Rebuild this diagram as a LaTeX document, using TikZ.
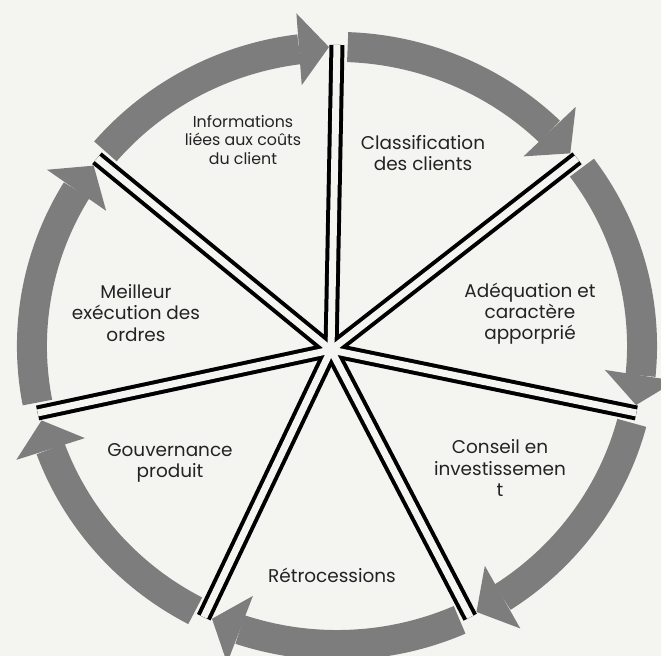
\documentclass[tikz,border=0pt]{standalone}
\usepackage{fontspec}
\setmainfont{Poppins}
\usepackage{xcolor}
\usetikzlibrary{arrows.meta,bending,calc}

\definecolor{paper}{RGB}{244,244,241}
\definecolor{ringgray}{RGB}{125,125,125}
\definecolor{inkgray}{RGB}{35,35,35}

\begin{document}
\begin{tikzpicture}[
        scale=0.02,
        label/.style={align=center, font=\fontsize{10.5}{12}\selectfont, text=inkgray},
        smalllabel/.style={align=center, font=\fontsize{9}{10.5}\selectfont, text=inkgray},
        ring/.style={draw=ringgray, line width=0.6cm,
            -{Triangle[length=0.6cm 0 0, width=1.44cm 0 0, line width=0pt, flex]}},
        spokeout/.style={black, line width=0.3cm},
        spokein/.style={paper, line width=0.14cm}
    ]

    % Page
    \fill[paper] (-337,-310) rectangle (324,346);
    \useasboundingbox (-337,-310) rectangle (324,346);

    % Hub and spoke ends
    \coordinate (hub) at (-6,-4);
    \coordinate (s1) at (90:307 and 301);
    \coordinate (s2) at (38.571:307 and 301);
    \coordinate (s3) at (-12.857:307 and 301);
    \coordinate (s4) at (-64.286:307 and 301);
    \coordinate (s5) at (-115.714:307 and 301);
    \coordinate (s6) at (-167.143:307 and 301);
    \coordinate (s7) at (141.429:307 and 301);

    % Ring starts
    \coordinate (r1) at (88:305 and 299);
    \coordinate (r2) at (36.6:305 and 299);
    \coordinate (r3) at (-14.9:305 and 299);
    \coordinate (r4) at (-66.3:305 and 299);
    \coordinate (r5) at (-117.7:305 and 299);
    \coordinate (r6) at (190.9:305 and 299);
    \coordinate (r7) at (139.4:305 and 299);

    % Ring arrows
    \draw[ring] (r1) arc[start angle=88, end angle=40.1, x radius=305, y radius=299];
    \draw[ring] (r2) arc[start angle=36.6, end angle=-11.4, x radius=305, y radius=299];
    \draw[ring] (r3) arc[start angle=-14.9, end angle=-62.8, x radius=305, y radius=299];
    \draw[ring] (r4) arc[start angle=-66.3, end angle=-114.2, x radius=305, y radius=299];
    \draw[ring] (r5) arc[start angle=-117.7, end angle=-165.6, x radius=305, y radius=299];
    \draw[ring] (r6) arc[start angle=190.9, end angle=142.9, x radius=305, y radius=299];
    \draw[ring] (r7) arc[start angle=139.4, end angle=91.5, x radius=305, y radius=299];

    % Spokes
    \draw[spokeout] (hub) -- (s1);
    \draw[spokeout] (hub) -- (s2);
    \draw[spokeout] (hub) -- (s3);
    \draw[spokeout] (hub) -- (s4);
    \draw[spokeout] (hub) -- (s5);
    \draw[spokeout] (hub) -- (s6);
    \draw[spokeout] (hub) -- (s7);
    \draw[spokein] (hub) -- ($(s1)!0.08cm!(hub)$);
    \draw[spokein] (hub) -- ($(s2)!0.08cm!(hub)$);
    \draw[spokein] (hub) -- ($(s3)!0.08cm!(hub)$);
    \draw[spokein] (hub) -- ($(s4)!0.08cm!(hub)$);
    \draw[spokein] (hub) -- ($(s5)!0.08cm!(hub)$);
    \draw[spokein] (hub) -- ($(s6)!0.08cm!(hub)$);
    \draw[spokein] (hub) -- ($(s7)!0.08cm!(hub)$);

    % Labels
    \node[smalllabel] (info) at (-94,206) {Informations\\liées aux coûts\\du client};
    \node[label] (classif) at (86,193) {Classification\\des clients};
    \node[label] (adequation) at (193,32) {Adéquation et\\caractère\\apporprié};
    \node[label] (conseil) at (163,-122) {Conseil en\\investissemen\\t};
    \node[label] (retro) at (-5,-229) {Rétrocessions};
    \node[label] (gouv) at (-167,-117) {Gouvernance\\produit};
    \node[label] (meilleur) at (-201,33) {Meilleur\\exécution des\\ordres};

\end{tikzpicture}
\end{document}
